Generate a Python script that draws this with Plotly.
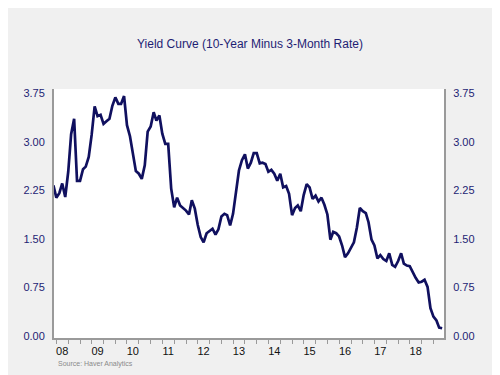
import plotly.graph_objects as go
import pandas as pd

# Monthly 10-Year minus 3-Month spread, Apr 2008 - Apr 2019
start_month = "2008-04-01"
spread = [
    2.33, 2.14, 2.21, 2.36, 2.15, 2.54, 3.12, 3.36, 2.40,
    2.40, 2.58, 2.62, 2.77, 3.11, 3.55, 3.40, 3.42, 3.28, 3.32, 3.36, 3.56,
    3.69, 3.59, 3.59, 3.71, 3.26, 3.09, 2.85, 2.55, 2.51, 2.43, 2.64, 3.16,
    3.24, 3.46, 3.33, 3.41, 3.13, 2.97, 2.97, 2.28, 1.99, 2.14, 2.02, 1.98,
    1.94, 1.88, 2.10, 1.97, 1.72, 1.53, 1.45, 1.59, 1.62, 1.66, 1.57, 1.65,
    1.85, 1.89, 1.87, 1.71, 1.89, 2.26, 2.56, 2.72, 2.81, 2.59, 2.68, 2.83,
    2.83, 2.67, 2.68, 2.66, 2.54, 2.57, 2.51, 2.40, 2.51, 2.30, 2.32, 2.20,
    1.87, 1.98, 2.02, 1.93, 2.18, 2.35, 2.30, 2.12, 2.17, 2.08, 2.14, 2.03,
    1.88, 1.49, 1.61, 1.59, 1.54, 1.40, 1.22, 1.28, 1.36, 1.45, 1.68, 1.98,
    1.93, 1.90, 1.76, 1.49, 1.40, 1.20, 1.25, 1.19, 1.16, 1.28, 1.10, 1.07,
    1.16, 1.28, 1.12, 1.09, 1.08, 0.98, 0.90, 0.83, 0.84, 0.87, 0.76, 0.43,
    0.30, 0.24, 0.13, 0.12,
]
dates = pd.date_range(start_month, periods=len(spread), freq="MS")

y_ticks = [0.0, 0.75, 1.50, 2.25, 3.00, 3.75]
y_labels = ["0.00", "0.75", "1.50", "2.25", "3.00", "3.75"]
years = list(range(2008, 2019))
year_labels = [f"{y % 100:02d}" for y in years]
label_pos = [f"{y}-07-01" for y in years]
tick_pos = [d.strftime("%Y-%m-%d") for d in pd.date_range("2008-05-01", "2019-01-01", freq="4MS")]

navy = "#10105f"
label_navy = "#1e1e74"
grey = "#9a9a9a"
font_family = "Liberation Sans, Arial, sans-serif"
x_range = ["2008-04-07", "2019-04-20"]
y_range = [-0.03, 3.82]

fig = go.Figure()
fig.add_trace(go.Scatter(x=dates, y=spread, mode="lines",
                         line=dict(color=navy, width=2.7), showlegend=False,
                         hoverinfo="skip"))
# invisible copy so the secondary (label) axes are drawn
fig.add_trace(go.Scatter(x=dates, y=spread, mode="lines", xaxis="x2", yaxis="y2",
                         line=dict(color="rgba(0,0,0,0)", width=0), showlegend=False,
                         hoverinfo="skip"))

fig.update_layout(
    width=500, height=375,
    paper_bgcolor="#f0f0f0", plot_bgcolor="white",
    margin=dict(l=45.5, r=64, t=81, b=45),
    title=dict(text="Yield Curve (10-Year Minus 3-Month Rate)", x=(250 - 8) / 500, xanchor="center",
               y=1 - 36 / 375, yanchor="middle",
               font=dict(family=font_family, size=12, color=label_navy)),
    xaxis=dict(type="date", range=x_range, tickvals=tick_pos, ticktext=[""] * len(tick_pos),
               ticks="outside", ticklen=4, tickcolor=grey, tickwidth=1,
               showline=True, linecolor=grey, linewidth=2, showgrid=False, zeroline=False),
    xaxis2=dict(type="date", range=x_range, overlaying="x", side="bottom", anchor="y",
                tickvals=label_pos, ticktext=year_labels, ticks="outside", ticklen=3,
                tickcolor="rgba(0,0,0,0)", showline=False, showgrid=False, zeroline=False,
                tickfont=dict(family=font_family, size=11, color="#111111")),
    yaxis=dict(range=y_range, tickvals=y_ticks, ticktext=y_labels, ticks="outside",
               ticklen=5, tickcolor="rgba(0,0,0,0)", showline=True, linecolor=grey,
               linewidth=2, showgrid=False, zeroline=False,
               tickfont=dict(family=font_family, size=11, color=label_navy)),
    yaxis2=dict(range=y_range, overlaying="y", side="right", anchor="x",
                tickvals=y_ticks, ticktext=y_labels, ticks="outside", ticklen=5,
                tickcolor="rgba(0,0,0,0)", showline=True, linecolor=grey, linewidth=2,
                showgrid=False, zeroline=False,
                tickfont=dict(family=font_family, size=11, color=label_navy)),
)
fig.add_annotation(text="Source: Haver Analytics", xref="paper", yref="paper",
                   x=(48 - 45.5) / 390.5, y=-(356 - 330) / 249, xanchor="left", yanchor="middle",
                   showarrow=False, font=dict(family=font_family, size=7, color="#8a8a8a"))

fig.write_html("out.html")
